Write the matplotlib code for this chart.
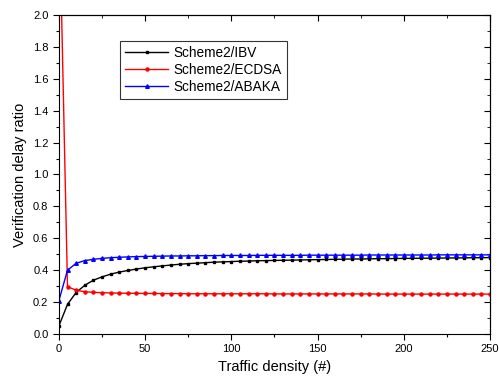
import matplotlib
matplotlib.use("Agg")
import matplotlib.pyplot as plt
from matplotlib.ticker import MultipleLocator, FormatStrFormatter

plt.rcParams['font.family'] = ['Liberation Sans', 'DejaVu Sans']

# traffic density (vehicles)
density = list(range(0, 255, 5))

# verification delay ratio
ibv = [0.050, 0.186, 0.260, 0.305, 0.337, 0.358, 0.375, 0.388, 0.398, 0.407,
       0.415, 0.421, 0.427, 0.432, 0.437, 0.441, 0.444, 0.447, 0.450, 0.452,
       0.454, 0.456, 0.457, 0.459, 0.460, 0.461, 0.462, 0.463, 0.464, 0.465,
       0.466, 0.467, 0.468, 0.469, 0.470, 0.470, 0.471, 0.472, 0.472, 0.473,
       0.474, 0.474, 0.475, 0.475, 0.476, 0.476, 0.477, 0.477, 0.478, 0.478,
       0.479]
ecdsa = [2.80, 0.297, 0.274, 0.265, 0.261, 0.259, 0.257, 0.256, 0.255, 0.255,
         0.254, 0.254, 0.253, 0.253, 0.253, 0.252, 0.252, 0.252, 0.252, 0.252,
         0.252, 0.252, 0.252, 0.252, 0.252, 0.251, 0.251, 0.251, 0.251, 0.251,
         0.251, 0.251, 0.251, 0.251, 0.251, 0.251, 0.251, 0.250, 0.250, 0.250,
         0.250, 0.250, 0.250, 0.250, 0.250, 0.250, 0.250, 0.250, 0.250, 0.250,
         0.250]
abaka = [0.209, 0.400, 0.443, 0.460, 0.468, 0.474, 0.478, 0.481, 0.483, 0.485,
         0.486, 0.487, 0.488, 0.489, 0.489, 0.490, 0.490, 0.491, 0.491, 0.492,
         0.492, 0.492, 0.492, 0.493, 0.493, 0.493, 0.493, 0.493, 0.493, 0.494,
         0.494, 0.494, 0.494, 0.494, 0.494, 0.494, 0.495, 0.495, 0.495, 0.495,
         0.495, 0.495, 0.495, 0.495, 0.496, 0.496, 0.496, 0.496, 0.496, 0.496,
         0.496]

fig = plt.figure(figsize=(4.99, 3.83), dpi=100)
ax = fig.add_axes([0.118, 0.128, 0.864, 0.833])

ax.plot(density, ibv, color='black', marker='s', markersize=2, lw=1.0, label='Scheme2/IBV')
ax.plot(density, ecdsa, color='red', marker='o', markersize=2.2, lw=1.0, label='Scheme2/ECDSA')
ax.plot(density, abaka, color='blue', marker='^', markersize=2.6, lw=1.0, label='Scheme2/ABAKA')

ax.set_xlim(0, 250)
ax.set_ylim(0, 2.0)
ax.xaxis.set_major_locator(MultipleLocator(50))
ax.xaxis.set_minor_locator(MultipleLocator(25))
ax.yaxis.set_major_locator(MultipleLocator(0.2))
ax.yaxis.set_minor_locator(MultipleLocator(0.1))
ax.yaxis.set_major_formatter(FormatStrFormatter('%.1f'))
ax.tick_params(which='both', direction='out', labelsize=8, width=0.8)
ax.tick_params(which='major', length=4)
ax.tick_params(which='minor', length=2.5)

# mirrored ticks on top and right, pointing inward
secx = ax.secondary_xaxis('top')
secx.xaxis.set_major_locator(MultipleLocator(50))
secx.xaxis.set_minor_locator(MultipleLocator(25))
secx.tick_params(which='both', direction='in', labeltop=False)
secx.tick_params(which='major', length=4)
secx.tick_params(which='minor', length=2.5)
secy = ax.secondary_yaxis('right')
secy.yaxis.set_major_locator(MultipleLocator(0.2))
secy.yaxis.set_minor_locator(MultipleLocator(0.1))
secy.tick_params(which='both', direction='in', labelright=False)
secy.tick_params(which='major', length=4)
secy.tick_params(which='minor', length=2.5)

ax.set_xlabel('Traffic density (#)', fontsize=10.5)
ax.set_ylabel('Verification delay ratio', fontsize=10.5)

leg = ax.legend(loc='upper left', bbox_to_anchor=(0.142, 0.918), fontsize=9.8,
                frameon=True, fancybox=False, edgecolor='black', handlelength=3.2,
                numpoints=1, borderpad=0.35, labelspacing=0.22, handletextpad=0.4,
                borderaxespad=0)
leg.get_frame().set_linewidth(0.8)

fig.savefig('out.png', dpi=100)
